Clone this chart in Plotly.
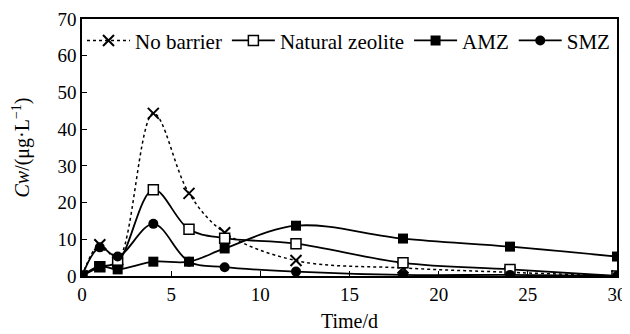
import plotly.graph_objects as go

time = [0, 1, 2, 4, 6, 8, 12, 18, 24, 30]
no_barrier = [0, 8.5, 4.5, 44.3, 22.5, 11.8, 4.2, 2.2, 1.0, 0]
natural_zeolite = [0, 2.5, 3.8, 23.5, 12.7, 10.3, 8.8, 3.6, 1.8, 0]
amz = [0, 2.7, 1.8, 3.9, 3.9, 7.5, 13.7, 10.2, 8.0, 5.3]
smz = [0, 7.8, 5.3, 14.2, 3.9, 2.4, 1.2, 0.3, 0.3, 0]

FONT = "Liberation Serif, Times New Roman, serif"
F_TICK = dict(family=FONT, size=19, color="black")
F_TITLE = dict(family=FONT, size=20, color="black")
F_LEG = dict(family=FONT, size=21, color="black")

fig = go.Figure()
fig.add_trace(go.Scatter(
    x=time, y=no_barrier, name="No barrier", mode="lines+markers",
    line=dict(color="black", width=1.5, dash="dot", shape="spline", smoothing=1.0),
    marker=dict(symbol="x-thin", size=11, color="black", line=dict(width=2, color="black"))))
fig.add_trace(go.Scatter(
    x=time, y=natural_zeolite, name="Natural zeolite", mode="lines+markers",
    line=dict(color="black", width=1.8, shape="spline", smoothing=1.0),
    marker=dict(symbol="square", size=10, color="white", line=dict(width=1.5, color="black"))))
fig.add_trace(go.Scatter(
    x=time, y=amz, name="AMZ", mode="lines+markers",
    line=dict(color="black", width=1.8, shape="spline", smoothing=1.0),
    marker=dict(symbol="square", size=10, color="black")))
fig.add_trace(go.Scatter(
    x=time, y=smz, name="SMZ", mode="lines+markers",
    line=dict(color="black", width=1.8, shape="spline", smoothing=1.0),
    marker=dict(symbol="circle", size=10, color="black")))

# page is offset by the 8px default body margin, so the figure is 8px smaller
fig.update_layout(
    width=622, height=326,
    margin=dict(l=74, r=13, t=11, b=58, autoexpand=False),
    paper_bgcolor="white", plot_bgcolor="white",
    font=F_TITLE,
    showlegend=True,
    legend=dict(orientation="h", x=0.0, y=0.995, xanchor="left", yanchor="top",
                bgcolor="rgba(0,0,0,0)", font=F_LEG, itemwidth=43,
                tracegroupgap=0),
    xaxis=dict(range=[0, 30], tickvals=[0, 5, 10, 15, 20, 25, 30],
               ticks="inside", ticklen=5, tickcolor="black", tickfont=F_TICK,
               showline=True, linecolor="black", linewidth=1.5, mirror=True,
               showgrid=False, zeroline=False, automargin=False,
               title=dict(text="Time/d", standoff=10, font=F_TITLE)),
    yaxis=dict(range=[0, 70], tickvals=[0, 10, 20, 30, 40, 50, 60, 70],
               ticks="inside", ticklen=5, tickcolor="black", tickfont=F_TICK,
               showline=True, linecolor="black", linewidth=1.5, mirror=True,
               showgrid=False, zeroline=False, automargin=False,
               title=dict(text="<i>Cw</i>/(μg·L<sup>−1</sup>)", standoff=22, font=F_TITLE)),
)

fig.write_html("out.html")
